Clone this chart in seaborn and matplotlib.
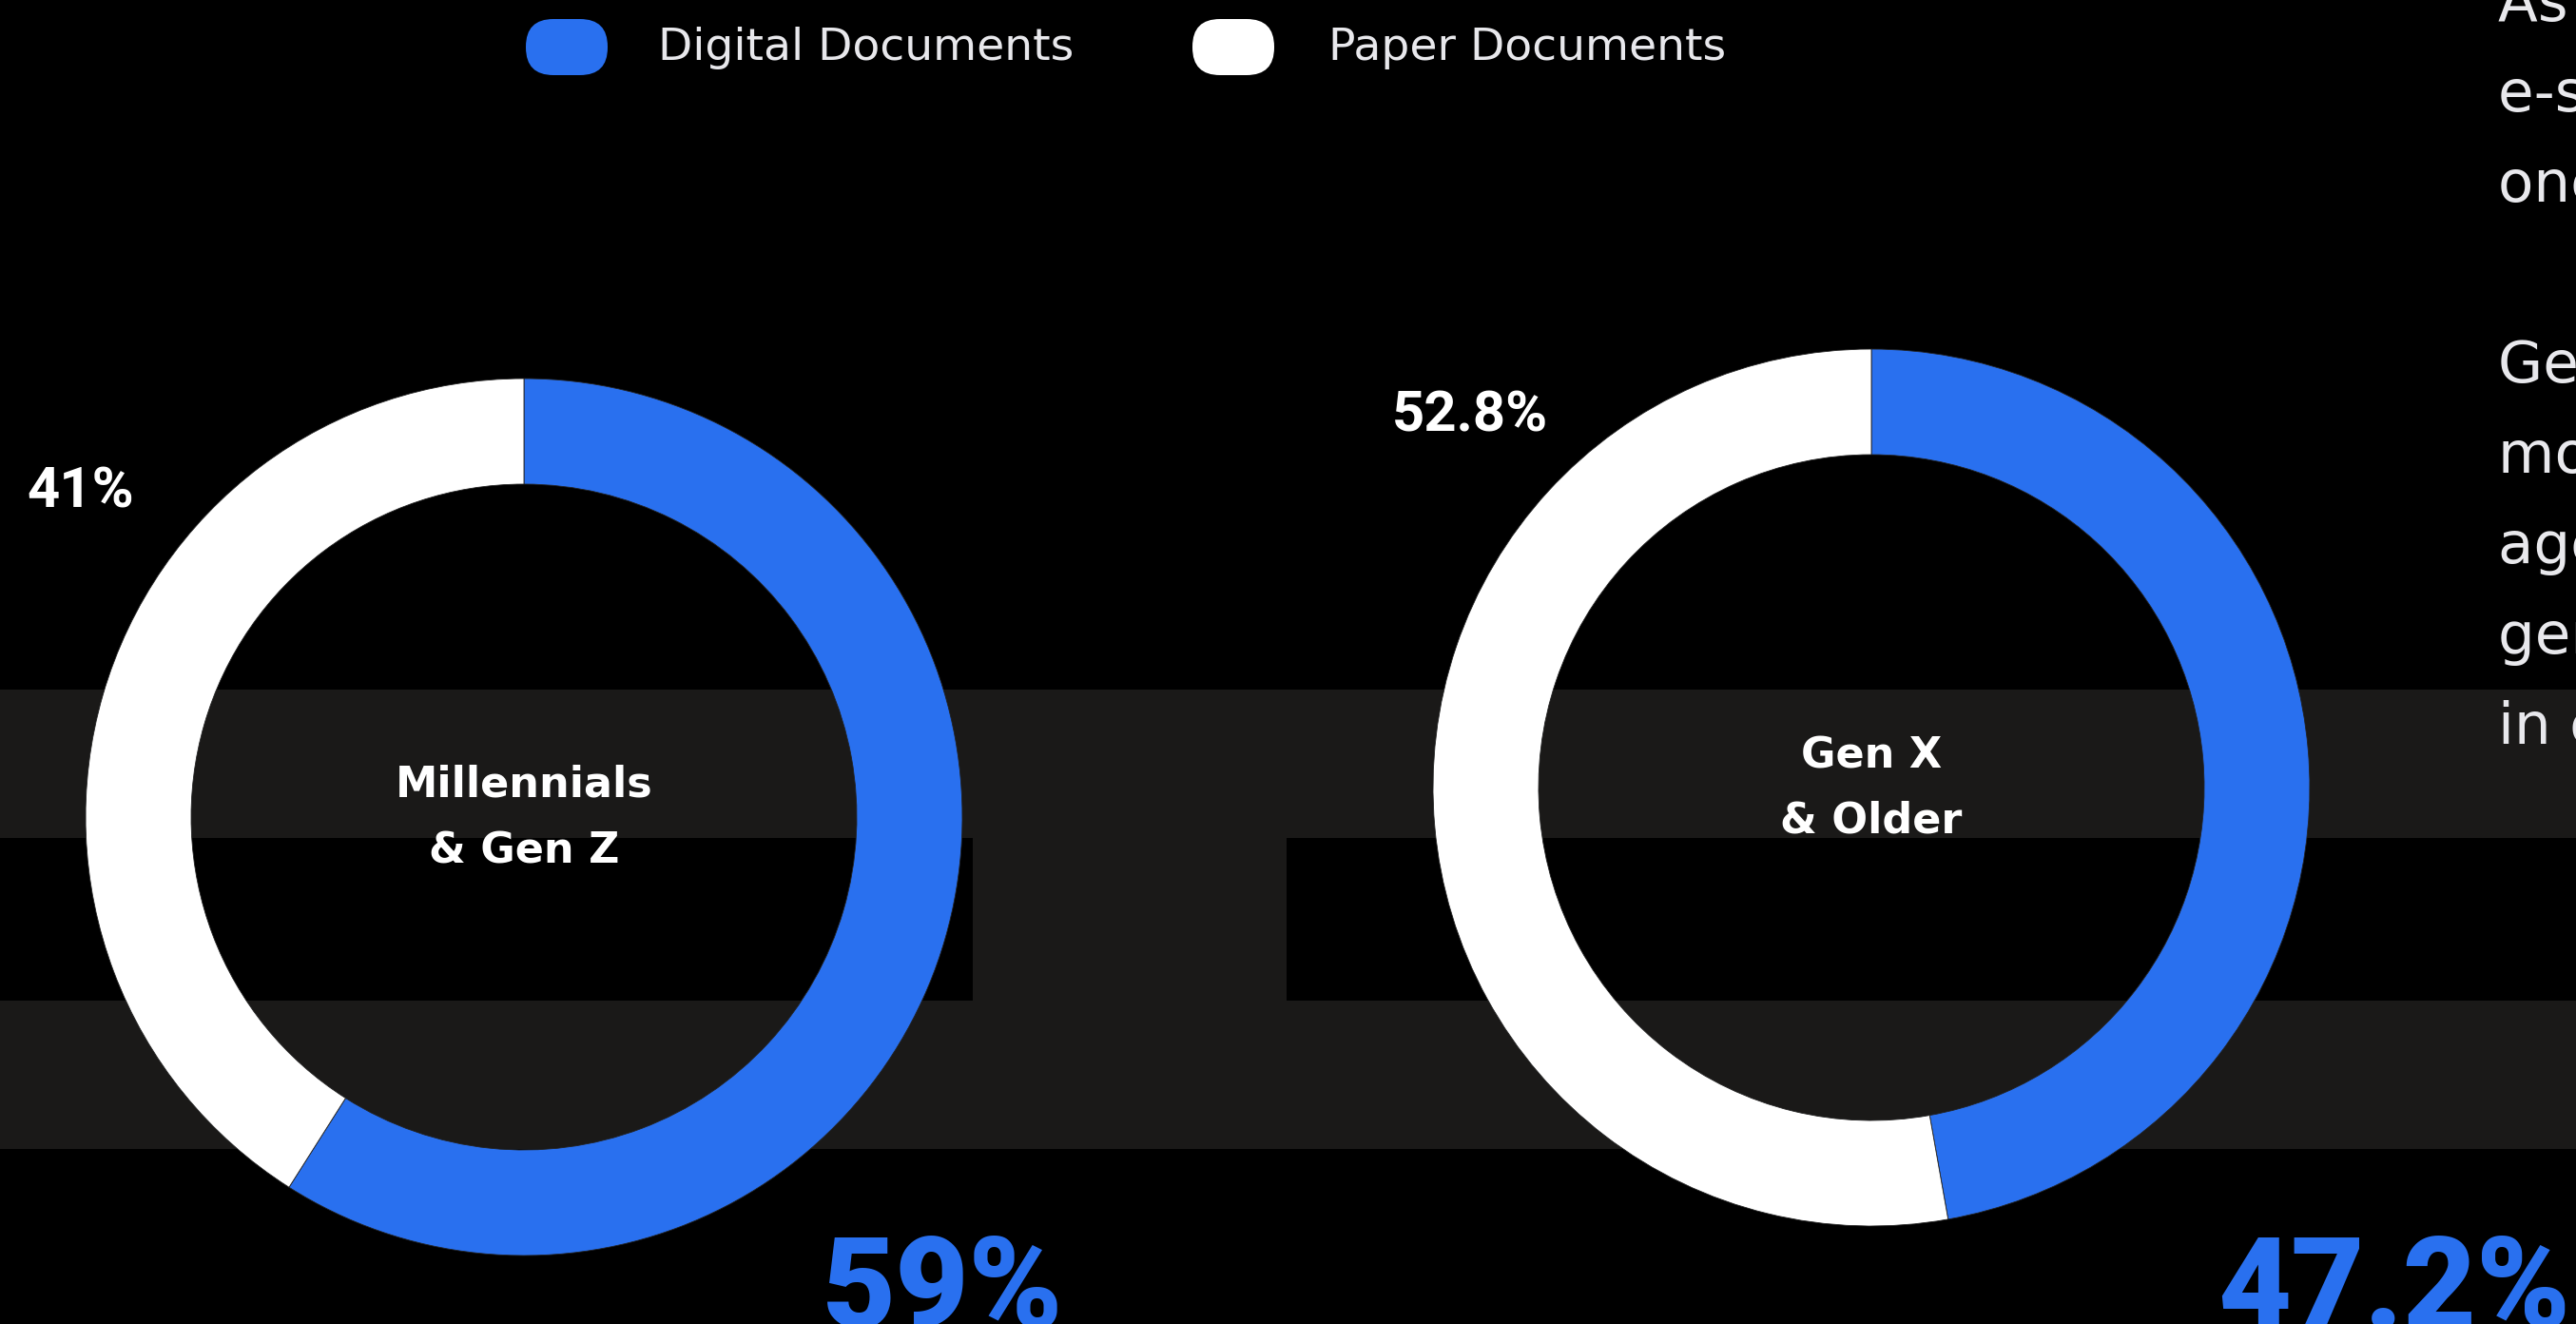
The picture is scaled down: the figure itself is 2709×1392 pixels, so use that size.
import matplotlib

matplotlib.use("Agg")
import matplotlib.pyplot as plt
import seaborn as sns
from matplotlib.patches import FancyBboxPatch, Rectangle

# canvas in pixels
W, H = 2709, 1392
DPI = 100

# data
series = ["Digital Documents", "Paper Documents"]
group_lines = [["Millennials", "& Gen Z"], ["Gen X", "& Older"]]
digital = [59.0, 47.2]
paper = [41.0, 52.8]
digital_labels = ["59%", "47.2%"]
paper_labels = ["41%", "52.8%"]
side_text = [
    "As remote work grows,",
    "e-signatures are becoming",
    "one of the most common tools.",
    "",
    "Generational gaps persist:",
    "more than half of those",
    "aged 43+ still prefer paper,",
    "generations are catching up",
    "in contrast to the past.",
]

BLUE = "#2970ef"
WHITE = "#ffffff"
GREY = "#1a1918"
TEXT = "#e8e8ec"

sns.set_theme(
    style="dark",
    rc={
        "figure.facecolor": "black",
        "axes.facecolor": "black",
        "savefig.facecolor": "black",
    },
)
plt.rcParams["font.family"] = ["DejaVu Sans"]

fig = plt.figure(figsize=(W / DPI, H / DPI), dpi=DPI)

# background layer in pixel coordinates
bg = fig.add_axes([0, 0, 1, 1])
bg.set_xlim(0, W)
bg.set_ylim(H, 0)
bg.axis("off")
bg.add_patch(Rectangle((0, 725), W, 156, color=GREY, lw=0))
bg.add_patch(Rectangle((0, 1052), W, 156, color=GREY, lw=0))
bg.add_patch(Rectangle((1023, 880), 330, 173, color=GREY, lw=0))

# legend pills
for x_pill, x_txt, label, col in zip(
    [553, 1254], [692, 1397], series, [BLUE, WHITE]
):
    bg.add_patch(
        FancyBboxPatch(
            (x_pill, 20),
            86,
            59,
            boxstyle="round,pad=0,rounding_size=29",
            color=col,
            lw=0,
        )
    )
    bg.text(x_txt, 63, label, color=TEXT, fontsize=34, va="baseline")

# donuts
centers = [(551, 859), (1968, 828)]
R, R_in = 461, 350
for (cx, cy), d, p in zip(centers, digital, paper):
    ax = fig.add_axes([(cx - R) / W, (H - cy - R) / H, 2 * R / W, 2 * R / H])
    ax.pie(
        [d, p],
        colors=[BLUE, WHITE],
        startangle=90,
        counterclock=False,
        radius=1,
        wedgeprops=dict(width=1 - R_in / R, edgecolor="#222222", linewidth=0.6),
    )
    ax.set_xlim(-1, 1)
    ax.set_ylim(-1, 1)
    ax.axis("off")

# group names in the holes
for (cx, cy), lines in zip(centers, group_lines):
    bg.text(cx, cy - 21, lines[0], color=WHITE, fontsize=32,
            fontweight="bold", ha="center", va="baseline")
    bg.text(cx, cy + 48, lines[1], color=WHITE, fontsize=32,
            fontweight="bold", ha="center", va="baseline")

# paper share labels
for (x, y), lab in zip([(85, 533), (1546, 453)], paper_labels):
    bg.text(x, y, lab, color=WHITE, fontsize=43, fontweight="bold",
            family="Roboto", ha="center", va="baseline")

# big digital share labels
for x, lab in zip([865, 2332], digital_labels):
    bg.text(x, 1396, lab, color=BLUE, fontsize=96, fontweight="black",
            family="Roboto", ha="left", va="baseline")

# side paragraph, clipped by the canvas edge
for i, line in enumerate(side_text):
    if line:
        bg.text(2627, 22 + 95 * i, line, color=TEXT, fontsize=44,
                va="baseline", clip_on=True)

fig.savefig("out.png", dpi=DPI)
